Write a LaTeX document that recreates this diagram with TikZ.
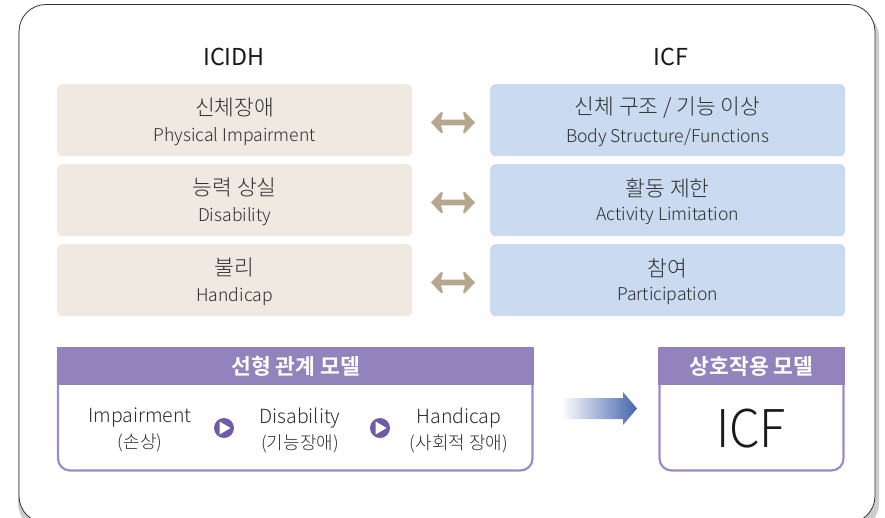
\documentclass[tikz,border=0pt]{standalone}
\usepackage{fontspec}
\usepackage{graphicx}
\setmainfont{Noto Sans CJK KR Light}[BoldFont={Noto Sans CJK KR Bold}]
\newfontfamily\headfont{Noto Sans CJK KR}
\usetikzlibrary{shadings}
\definecolor{beigebox}{HTML}{F0E9E2}
\definecolor{bluebox}{HTML}{CADAF0}
\definecolor{purplehead}{HTML}{9283BD}
\definecolor{purpleline}{HTML}{9A8CC4}
\definecolor{dotpurple}{HTML}{6E5CA8}
\definecolor{arrowtan}{HTML}{B5A88C}
\definecolor{inktext}{HTML}{2E2E2E}
\definecolor{arrowblue}{HTML}{4565AD}
\tikzset{
  x=1pt,y=-1pt,
  cellbox/.style={rounded corners=5pt,minimum width=355pt,minimum height=72pt,anchor=north west,inner sep=0pt},
  celltext/.style={text=inktext,align=center,inner sep=0pt},
  two/.style={text=inktext,align=center,anchor=center,font=\fontsize{19.5}{26}\selectfont},
  heading/.style={font=\headfont\fontsize{23.3}{27}\selectfont,text=black!90},
  headbar/.style={fill=purplehead,anchor=north west,inner sep=0pt,text=white,font=\bfseries\fontsize{21.5}{24}\selectfont},
  bidir/.style={draw=none,fill=arrowtan},
  playdot/.style={circle,fill=dotpurple,minimum size=20pt,inner sep=0pt},
}
\newcommand{\cell}[2]{{\fontsize{21.5}{24}\selectfont #1}\\[9pt]{\fontsize{17.6}{22}\selectfont #2}}
\begin{document}
\begin{tikzpicture}
\useasboundingbox (0,0) rectangle (885,517);
\fill[white] (0,0) rectangle (885,517);
\begin{scope}
\clip (0,0) rectangle (885,517);
\fill[black!20] (18,10) [rounded corners=27pt] -- (879,10) -- (879,530) -- (18,530) -- cycle;
\draw[black!80,fill=white,line width=0.8pt,rounded corners=27pt] (19,4.5) -- (875,4.5) -- (875,523) -- (19,523) -- cycle;
\end{scope}
\node[heading] (ticidh) at (234,57) {ICIDH};
\node[heading] (ticf) at (671,57) {ICF};
\node[cellbox,fill=beigebox] (l1) at (57,84) {};
\node[cellbox,fill=beigebox] (l2) at (57,164) {};
\node[cellbox,fill=beigebox] (l3) at (57,244) {};
\node[cellbox,fill=bluebox] (r1) at (490,84) {};
\node[cellbox,fill=bluebox] (r2) at (490,164) {};
\node[cellbox,fill=bluebox] (r3) at (490,244) {};
\node[celltext] (l1t) at ([yshift=-1.5pt]l1.center) {\cell{신체장애}{Physical Impairment}};
\node[celltext] (l2t) at ([yshift=-1.5pt]l2.center) {\cell{능력 상실}{Disability}};
\node[celltext] (l3t) at ([yshift=-1.5pt]l3.center) {\cell{불리}{Handicap}};
\node[celltext] (r1t) at ([yshift=-1.5pt]r1.center) {\cell{신체 구조 / 기능 이상}{Body Structure/Functions}};
\node[celltext] (r2t) at ([yshift=-1.5pt]r2.center) {\cell{활동 제한}{Activity Limitation}};
\node[celltext] (r3t) at ([yshift=-1.5pt]r3.center) {\cell{참여}{Participation}};
\foreach \yy in {122.5,202.5,282.5}{
  \fill[bidir] (431,\yy) -- (441,\yy-10.5) -- (443,\yy-10) -- (441,\yy-2.8) -- (465,\yy-2.8) -- (463,\yy-10) -- (465,\yy-10.5) -- (475,\yy) -- (465,\yy+10.5) -- (463,\yy+10) -- (465,\yy+2.8) -- (441,\yy+2.8) -- (443,\yy+10) -- (441,\yy+10.5) -- cycle;
}
\draw[purpleline,line width=2.2pt,fill=white,rounded corners=12pt] (58,360) -- (58,470.5) -- (532.5,470.5) -- (532.5,360);
\node[headbar,minimum width=477pt,minimum height=38pt] (hl) at (57,347) {선형 관계 모델};
\node[two] (a) at (140,430) {Impairment\\[0pt]{\fontsize{18}{20}\selectfont (손상)}};
\node[two] (b) at (300,430) {Disability\\[0pt]{\fontsize{18}{20}\selectfont (기능장애)}};
\node[two] (c) at (459,430) {Handicap\\[0pt]{\fontsize{18}{20}\selectfont (사회적 장애)}};
\foreach \xx/\nm in {224/p1,380/p2}{
  \node[playdot] (\nm) at (\xx,428) {};
  \fill[white] (\xx-4.5,428-6.5) -- (\xx+6.5,428) -- (\xx-4.5,428+6.5) -- cycle;
}
\shade[left color=white,right color=arrowblue,shading angle=90] (561,398) -- (623,398) -- (623,392) -- (637,408.5) -- (623,425) -- (623,419) -- (561,419) -- cycle;
\draw[purpleline,line width=2.2pt,fill=white,rounded corners=12pt] (659.5,360) -- (659.5,470.5) -- (843.5,470.5) -- (843.5,360);
\node[headbar,minimum width=187pt,minimum height=38pt] (hr) at (658,347) {상호작용 모델};
\node[font=\fontsize{52}{56}\selectfont,text=black!90] (icf) at (751,429) {\scalebox{.94}[1]{ICF}};
\end{tikzpicture}
\end{document}
